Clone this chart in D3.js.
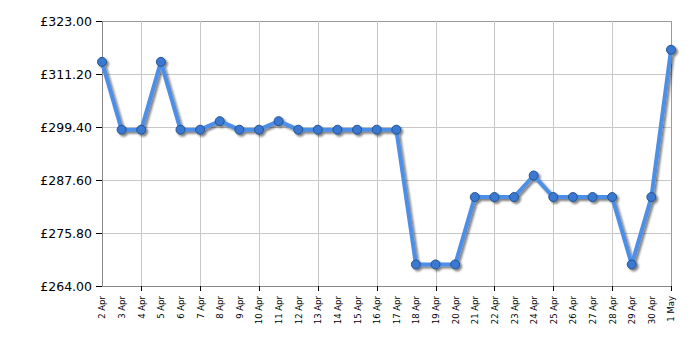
<!DOCTYPE html>
<html>
<head>
<meta charset="utf-8">
<script src="https://cdn.jsdelivr.net/npm/d3@7"></script>
<style>
body { margin: 0; background: #fff; }
text { font-family: "DejaVu Sans", Verdana, sans-serif; }
</style>
</head>
<body>
<div id="chart"></div>
<script>
// price history, one point per day
var dates = ["2 Apr", "3 Apr", "4 Apr", "5 Apr", "6 Apr", "7 Apr", "8 Apr", "9 Apr", "10 Apr",
    "11 Apr", "12 Apr", "13 Apr", "14 Apr", "15 Apr", "16 Apr", "17 Apr", "18 Apr", "19 Apr",
    "20 Apr", "21 Apr", "22 Apr", "23 Apr", "24 Apr", "25 Apr", "26 Apr", "27 Apr", "28 Apr",
    "29 Apr", "30 Apr", "1 May"]
var prices = [313.9, 298.8, 298.8, 313.9, 298.8, 298.8, 300.7, 298.8, 298.8,
    300.7, 298.8, 298.8, 298.8, 298.8, 298.8, 298.8, 268.8, 268.8,
    268.8, 283.8, 283.8, 283.8, 288.6, 283.8, 283.8, 283.8, 283.8,
    268.8, 283.8, 316.6]
var y_ticks = [264.0, 275.8, 287.6, 299.4, 311.2, 323.0]
// every third day gets a gridline, starting at 4 Apr
var grid_days = ["4 Apr", "7 Apr", "10 Apr", "13 Apr", "16 Apr", "19 Apr", "22 Apr", "25 Apr", "28 Apr", "1 May"]

var margin = {top: 21, right: 29, bottom: 64, left: 102}
var width = 700 - margin.left - margin.right,
    height = 350 - margin.top - margin.bottom

var svg = d3.select("#chart").append("svg")
    .attr("width", 700)
    .attr("height", 350)

var g = svg.append("g")
    .attr("transform", "translate(" + margin.left + "," + margin.top + ")")

var x = d3.scalePoint().domain(dates).range([0, width])
var y = d3.scaleLinear().domain([264, 323]).range([height, 0])

var defs = svg.append("defs")
var f = defs.append("filter").attr("id", "shadow")
    .attr("x", "-20%").attr("y", "-20%").attr("width", "140%").attr("height", "140%")
f.append("feGaussianBlur").attr("in", "SourceAlpha").attr("stdDeviation", 0.9)
f.append("feOffset").attr("dx", 2).attr("dy", 2).attr("result", "b")
f.append("feComponentTransfer").append("feFuncA").attr("type", "linear").attr("slope", 0.5)
var merge = f.append("feMerge")
merge.append("feMergeNode")
merge.append("feMergeNode").attr("in", "SourceGraphic")

// gridlines
g.selectAll(".hgrid")
    .data(y_ticks)
    .enter().append("line")
    .attr("class", "hgrid")
    .attr("x1", 0).attr("x2", width)
    .attr("y1", function(d) { return Math.round(y(d)) + 0.5 })
    .attr("y2", function(d) { return Math.round(y(d)) + 0.5 })
    .attr("stroke", function(d, i) { return i == y_ticks.length - 1 ? "#9a9a9a" : "#c8c8c8" })

g.selectAll(".vgrid")
    .data(grid_days)
    .enter().append("line")
    .attr("class", "vgrid")
    .attr("y1", 0).attr("y2", height)
    .attr("x1", function(d) { return Math.round(x(d)) + 0.5 })
    .attr("x2", function(d) { return Math.round(x(d)) + 0.5 })
    .attr("stroke", function(d, i) { return i == grid_days.length - 1 ? "#9a9a9a" : "#c8c8c8" })

// y axis
var yAxis = g.append("g")
    .call(d3.axisLeft(y).tickValues(y_ticks).tickSize(6).tickPadding(4)
        .tickFormat(function(d) { return "£" + d3.format(".2f")(d) }))
yAxis.select(".domain").attr("stroke", "#888")
yAxis.selectAll(".tick line").attr("stroke", "#000")
yAxis.selectAll("text").attr("font-size", "12.5px").attr("fill", "#000")
    .attr("font-family", "DejaVu Sans, Verdana, sans-serif")

// x axis
var xAxis = g.append("g")
    .attr("transform", "translate(0," + height + ")")
    .call(d3.axisBottom(x).tickSize(0).tickPadding(0))
xAxis.select(".domain").attr("stroke", "#888")
xAxis.selectAll(".tick line").remove()
xAxis.selectAll(".tick text")
    .attr("font-size", "8.5px")
    .attr("fill", "#000")
    .attr("font-family", "DejaVu Sans, Verdana, sans-serif")
    .attr("text-anchor", "end")
    .attr("transform", "rotate(-90)")
    .attr("x", -10)
    .attr("y", 0)
    .attr("dy", "0.35em")

g.selectAll(".xtick")
    .data(grid_days)
    .enter().append("line")
    .attr("class", "xtick")
    .attr("x1", function(d) { return Math.round(x(d)) + 0.5 })
    .attr("x2", function(d) { return Math.round(x(d)) + 0.5 })
    .attr("y1", height).attr("y2", height + 5)
    .attr("stroke", "#000")

// line + points
var line = d3.line()
    .x(function(d, i) { return x(dates[i]) })
    .y(function(d) { return y(d) })

var series = g.append("g").attr("filter", "url(#shadow)")
series.append("path")
    .datum(prices)
    .attr("d", line)
    .attr("fill", "none")
    .attr("stroke", "#4d8ee6")
    .attr("stroke-width", 4)
    .attr("stroke-linejoin", "round")

series.selectAll(".pt")
    .data(prices)
    .enter().append("circle")
    .attr("class", "pt")
    .attr("cx", function(d, i) { return x(dates[i]) })
    .attr("cy", function(d) { return y(d) })
    .attr("r", 4.5)
    .attr("fill", "#3a78d2")
    .attr("stroke", "#22548f")
    .attr("stroke-width", 1)
</script>
</body>
</html>
